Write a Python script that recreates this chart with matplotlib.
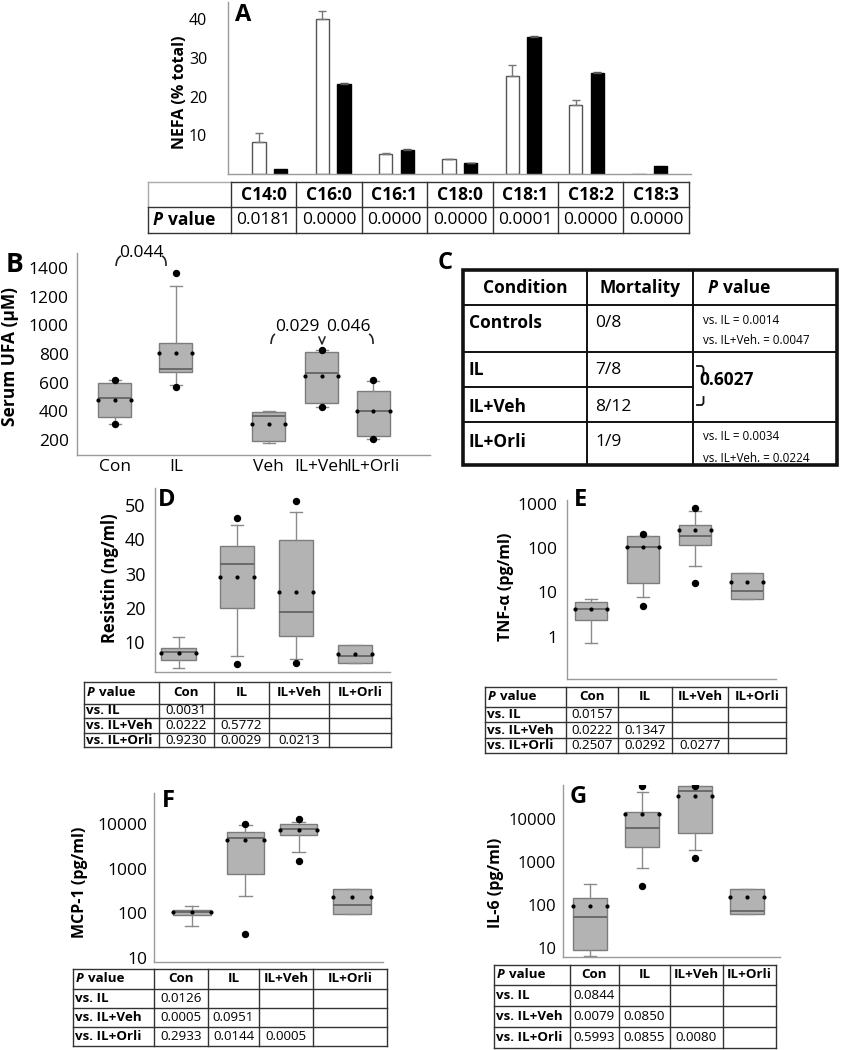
import numpy as np
import matplotlib.pyplot as plt
from matplotlib.path import Path
from matplotlib.patches import PathPatch, Rectangle

plt.rcParams['font.family'] = ['Open Sans', 'DejaVu Sans']

W, H = 841, 1050

# === Panel A: NEFA composition ===
fatty_acids = ["C14:0", "C16:0", "C16:1", "C18:0", "C18:1", "C18:2", "C18:3"]
nefa_open = [8.2, 40.0, 5.2, 3.8, 25.3, 17.7, 0.0]
nefa_open_err = [2.3, 2.2, 0.2, 0.2, 2.8, 1.4, 0.0]
nefa_filled = [1.3, 23.3, 6.3, 2.8, 35.3, 26.1, 2.0]
nefa_filled_err = [0.0, 0.3, 0.1, 0.1, 0.3, 0.3, 0.0]
nefa_p = ["0.0181", "0.0000", "0.0000", "0.0000", "0.0001", "0.0000", "0.0000"]

# === Panel B: serum UFA ===
ufa_groups = ["Con", "IL", "Veh", "IL+Veh", "IL+Orli"]
ufa_q1 = [363, 671, 193, 456, 228]
ufa_med = [496, 696, 368, 666, 403]
ufa_q3 = [596, 876, 398, 817, 545]
ufa_lo = [312, 585, 181, 433, 205]
ufa_hi = [620, 1272, 400, 829, 612]
ufa_mean = [480, 804, 310, 643, 403]
ufa_dots = [[620, 312], [1365, 568], [], [829, 433], [619, 205]]

# === Panel C: mortality table ===
mort_conditions = ["Controls", "IL", "IL+Veh", "IL+Orli"]
mort_ratio = ["0/8", "7/8", "8/12", "1/9"]
mort_p_controls = ["vs. IL = 0.0014", "vs. IL+Veh. = 0.0047"]
mort_p_orli = ["vs. IL = 0.0034", "vs. IL+Veh. = 0.0224"]
mort_p_il_vs_veh = "0.6027"

# === Panels D-G: cytokines ===
groups = ["Con", "IL", "IL+Veh", "IL+Orli"]
row_labels = ["vs. IL", "vs. IL+Veh", "vs. IL+Orli"]

resistin = dict(q1=[4.85, 20.0, 11.8, 3.9], med=[7.0, 32.8, 18.9, 6.0],
                q3=[8.3, 38.1, 39.8, 9.3], lo=[2.5, 6.0, 5.2, 3.9],
                hi=[11.5, 44.1, 48.0, 9.3], mean=[6.7, 29.0, 24.6, 6.6],
                dots=[[], [46.3, 3.6], [51.2, 3.9], []])
resistin_p = [["0.0031", "", "", ""],
              ["0.0222", "0.5772", "", ""],
              ["0.9230", "0.0029", "0.0213", ""]]

tnf = dict(q1=[2.38, 16.5, 117, 7.2], med=[4.3, 107, 186, 10.5],
           q3=[6.15, 190, 330, 27.8], lo=[0.71, 7.7, 39, 7.2],
           hi=[6.95, 190, 683, 27.8], mean=[4.2, 107, 264, 17.4],
           dots=[[], [209, 4.9], [813, 16.5], []])
tnf_p = [["0.0157", "", "", ""],
         ["0.0222", "0.1347", "", ""],
         ["0.2507", "0.0292", "0.0277", ""]]

mcp1 = dict(q1=[93, 747, 5570, 95], med=[105, 4780, 7600, 158],
            q3=[119, 6730, 9800, 357], lo=[53, 244, 2360, 95],
            hi=[146, 9500, 11300, 357], mean=[105, 4390, 7350, 228],
            dots=[[], [10000, 34], [12700, 1490], []])
mcp1_p = [["0.0126", "", "", ""],
          ["0.0005", "0.0951", "", ""],
          ["0.2933", "0.0144", "0.0005", ""]]

il6 = dict(q1=[8.8, 2280, 4720, 62], med=[52, 6290, 45700, 74],
           q3=[148, 14800, 57600, 240], lo=[6.4, 738, 1940, 62],
           hi=[308, 43200, 57600, 240], mean=[96, 13000, 33700, 153],
           dots=[[], [57000, 282], [58500, 1260], []])
il6_p = [["0.0844", "", "", ""],
         ["0.0079", "0.0850", "", ""],
         ["0.5993", "0.0855", "0.0080", ""]]

BOX_FACE = "#b3b3b3"
BOX_EDGE = "#7c7c7c"
SPINE = "#9a9a9a"
LINE = "#333333"

fig = plt.figure(figsize=(W / 100, H / 100), dpi=100)

# overlay in pixel coordinates for tables / letters / annotations
ov = fig.add_axes([0, 0, 1, 1])
ov.set_xlim(0, W)
ov.set_ylim(H, 0)
ov.axis("off")


def px_axes(x0, y0, x1, y1):
    return fig.add_axes([x0 / W, 1 - y1 / H, (x1 - x0) / W, (y1 - y0) / H])


def style_axes(ax, labelsize, pad):
    for s in ["top", "right"]:
        ax.spines[s].set_visible(False)
    for s in ["left", "bottom"]:
        ax.spines[s].set_color(SPINE)
        ax.spines[s].set_linewidth(1.0)
    ax.tick_params(length=0, labelsize=labelsize, pad=pad)
    ax.set_facecolor("none")


def boxes(ax, d, positions, width):
    n = len(d["med"])
    stats = []
    for i in range(n):
        stats.append(dict(med=d["med"][i], q1=d["q1"][i], q3=d["q3"][i],
                          whislo=d["lo"][i], whishi=d["hi"][i], fliers=[]))
    ax.bxp(stats, positions=positions, widths=width, capwidths=width * 0.35,
           patch_artist=True, showfliers=False,
           boxprops=dict(facecolor=BOX_FACE, edgecolor=BOX_EDGE, linewidth=1.0),
           medianprops=dict(color="#5e5e5e", linewidth=1.2),
           whiskerprops=dict(color="#8a8a8a", linewidth=1.0),
           capprops=dict(color="#8a8a8a", linewidth=1.0))
    for i, p in enumerate(positions):
        ax.plot([p - width / 2, p, p + width / 2], [d["mean"][i]] * 3, "o",
                ms=2.0, color="black", zorder=5)
        if d["dots"][i]:
            ax.plot([p] * len(d["dots"][i]), d["dots"][i], "o", ms=4.3,
                    color="black", zorder=5)


def letter(x, y, s, size=17):
    ov.text(x, y, s, fontsize=size, fontweight="bold", ha="center", va="center")


def ylab(x, y, s, size=12):
    ov.text(x, y, s, fontsize=size, fontweight="bold", rotation=90,
            ha="center", va="center")


def p_value_head(x, y, size):
    ov.text(x, y, "P", fontsize=size, fontweight="bold", fontstyle="italic",
            ha="left", va="center")
    ov.text(x + size * 1.2, y, "value", fontsize=size, fontweight="bold",
            ha="left", va="center")


def p_table(xs, ys, p_rows, size=9.6):
    for x in xs:
        ov.plot([x, x], [ys[0], ys[-1]], color=LINE, lw=1.0)
    for y in ys:
        ov.plot([xs[0], xs[-1]], [y, y], color=LINE, lw=1.0)
    yc = [(ys[i] + ys[i + 1]) / 2 for i in range(len(ys) - 1)]
    p_value_head(xs[0] + 3, yc[0], size)
    for j, g in enumerate(groups):
        ov.text((xs[j + 1] + xs[j + 2]) / 2, yc[0], g, fontsize=size,
                fontweight="bold", ha="center", va="center")
    for i, lab in enumerate(row_labels):
        ov.text(xs[0] + 2, yc[i + 1], lab, fontsize=size, fontweight="bold",
                ha="left", va="center")
        for j, v in enumerate(p_rows[i]):
            ov.text((xs[j + 1] + xs[j + 2]) / 2, yc[i + 1], v, fontsize=size,
                    ha="center", va="center")


def hook(pts, lw=1.2):
    codes = [Path.MOVETO, Path.CURVE3, Path.CURVE3]
    ov.add_patch(PathPatch(Path(pts, codes), fill=False, lw=lw, color="#222"))


# ---------------- Panel A ----------------
axA = px_axes(228, 2, 691, 174)
x = np.arange(len(fatty_acids))
bw, off = 0.21, 0.17
axA.bar(x - off, nefa_open, bw, color="white", edgecolor="#555555", lw=1.0)
axA.bar(x + off, nefa_filled, bw, color="black", edgecolor="black", lw=1.0)
mask_o = np.array(nefa_open_err) > 0
axA.errorbar((x - off)[mask_o], np.array(nefa_open)[mask_o],
             yerr=[np.zeros(mask_o.sum()), np.array(nefa_open_err)[mask_o]],
             fmt="none", ecolor="#777777", elinewidth=1.0, capsize=3)
mask_f = np.array(nefa_filled_err) > 0
axA.errorbar((x + off)[mask_f], np.array(nefa_filled)[mask_f],
             yerr=[np.zeros(mask_f.sum()), np.array(nefa_filled_err)[mask_f]],
             fmt="none", ecolor="#555555", elinewidth=1.0, capsize=3)
axA.set_xlim(-0.66, 6.65)
axA.set_ylim(0, 44.4)
axA.set_yticks([10, 20, 30, 40])
axA.set_xticks([])
style_axes(axA, 11.5, 15)
letter(243, 15, "A")
ylab(180, 92, "NEFA (% total)", 11.5)

# table A
a_cols = [148, 231] + [231 + 65.4 * (k + 1) for k in range(7)]
a_rows = [182, 207, 233]
for k, xx in enumerate(a_cols):
    y_top = a_rows[1] if k == 0 else a_rows[0]
    ov.plot([xx, xx], [y_top, a_rows[2]], color=LINE, lw=1.0)
ov.plot([148, 148], [a_rows[0], a_rows[1]], color="#aaaaaa", lw=1.0)
ov.plot([148, 231], [a_rows[0], a_rows[0]], color="#aaaaaa", lw=1.0)
ov.plot([231, a_cols[-1]], [a_rows[0], a_rows[0]], color=LINE, lw=1.0)
ov.plot([148, a_cols[-1]], [a_rows[1], a_rows[1]], color=LINE, lw=1.0)
ov.plot([148, a_cols[-1]], [a_rows[2], a_rows[2]], color=LINE, lw=1.0)
for k, fa in enumerate(fatty_acids):
    cx = (a_cols[k + 1] + a_cols[k + 2]) / 2
    ov.text(cx, 194.5, fa, fontsize=12.5, fontweight="bold", ha="center", va="center")
    ov.text(cx, 220, nefa_p[k], fontsize=12.5, ha="center", va="center")
p_value_head(153, 220, 12.5)

# ---------------- Panel B ----------------
axB = px_axes(77, 253, 430, 455)
posB = [0, 1, 2.52, 3.39, 4.23]
ufa = dict(q1=ufa_q1, med=ufa_med, q3=ufa_q3, lo=ufa_lo, hi=ufa_hi,
           mean=ufa_mean, dots=ufa_dots)
boxes(axB, ufa, posB, 0.54)
axB.set_xlim(-0.62, 5.16)
axB.set_ylim(95, 1505)
axB.set_yticks(range(200, 1401, 200))
axB.set_xticks(posB)
axB.set_xticklabels(ufa_groups)
style_axes(axB, 12.5, 6)
axB.tick_params(axis="x", pad=3)
letter(15, 264, "B", 19)
ylab(10, 356, "Serum UFA (\u03bcM)", 12.5)
ov.text(141, 253, "0.044", fontsize=12.5, ha="center", va="center")
hook([(116, 266), (116.5, 258), (121, 256)])
hook([(162, 256), (166.5, 258), (166, 266)])
ov.text(297, 327, "0.029", fontsize=12.5, ha="center", va="center")
ov.text(348, 327, "0.046", fontsize=12.5, ha="center", va="center")
hook([(271, 344), (271.5, 336), (275, 334)])
hook([(369, 334), (373.5, 336), (373, 344)])
ov.plot([319, 322, 325], [337, 344, 337], color="#222", lw=1.1)

# ---------------- Panel C ----------------
letter(445, 263, "C")
cx0, cx1, cx2, cx3 = 463, 587, 693, 837
cy = [270, 305, 352, 387, 422, 465]
ov.add_patch(Rectangle((cx0, cy[0]), cx3 - cx0, cy[-1] - cy[0], fill=False,
                       lw=2.6, edgecolor="#111"))
for xx in [cx1, cx2]:
    ov.plot([xx, xx], [cy[0], cy[-1]], color="#111", lw=1.4)
for yy in [cy[1], cy[2], cy[4]]:
    ov.plot([cx0, cx3], [yy, yy], color="#111", lw=1.4)
ov.plot([cx0, cx2], [cy[3], cy[3]], color="#111", lw=1.4)
ov.text((cx0 + cx1) / 2, 288, "Condition", fontsize=12.5, fontweight="bold",
        ha="center", va="center")
ov.text((cx1 + cx2) / 2, 288, "Mortality", fontsize=12.5, fontweight="bold",
        ha="center", va="center")
p_value_head(708, 288, 12.5)
row_y = [323, 370, 407, 442]
for cond, ratio, yy in zip(mort_conditions, mort_ratio, row_y):
    ov.text(cx0 + 6, yy, cond, fontsize=12.5, fontweight="bold", ha="left", va="center")
    ov.text(cx1 + 8, yy, ratio, fontsize=12.5, ha="left", va="center")
for s, yy in zip(mort_p_controls, [320, 341]):
    ov.text(703, yy, s, fontsize=8.4, ha="left", va="center")
for s, yy in zip(mort_p_orli, [437, 458]):
    ov.text(703, yy, s, fontsize=8.4, ha="left", va="center")
ov.text(699, 380, mort_p_il_vs_veh, fontsize=12.5, fontweight="bold", ha="left",
        va="center")
ov.plot([697, 702, 703.5, 703.5], [366, 366, 368, 375], color="#111", lw=1.3)
ov.plot([703.5, 703.5, 702, 697], [397, 403, 405, 405], color="#111", lw=1.3)

# ---------------- Panel D ----------------
axD = px_axes(155, 488, 390, 672)
pos4 = np.arange(4)
boxes(axD, resistin, pos4, 0.58)
axD.set_xlim(-0.4, 3.6)
axD.set_ylim(1.3, 55)
axD.set_yticks([10, 20, 30, 40, 50])
axD.set_xticks([])
style_axes(axD, 13, 7)
letter(167, 500, "D", 17)
ylab(110, 578, "Resistin (ng/ml)", 12)
p_table([84, 159, 214, 269, 329, 391], [682, 704, 718, 733, 747], resistin_p)


def log_axes(ax, ticks, labelsize, pad):
    ax.set_yscale("log")
    ax.set_yticks(ticks)
    ax.set_yticklabels([str(t) for t in ticks])
    ax.yaxis.set_minor_locator(plt.NullLocator())
    ax.set_xticks([])
    style_axes(ax, labelsize, pad)


# ---------------- Panel E ----------------
axE = px_axes(567, 500, 776, 679)
boxes(axE, tnf, pos4, 0.62)
axE.set_xlim(-0.46, 3.56)
axE.set_ylim(0.11, 1230)
log_axes(axE, [1, 10, 100, 1000], 12.5, 7)
letter(581, 500, "E", 17)
ylab(506, 587, "TNF-\u03b1 (pg/ml)", 11.5)
p_table([485, 566, 618, 672, 728, 786], [687, 707, 722, 738, 753], tnf_p)

# ---------------- Panel F ----------------
axF = px_axes(154, 793, 383, 962)
boxes(axF, mcp1, pos4, 0.70)
axF.set_xlim(-0.71, 3.58)
axF.set_ylim(8.2, 49000)
log_axes(axF, [10, 100, 1000, 10000], 12.5, 5)
letter(168, 801, "F", 17)
ylab(80, 882, "MCP-1 (pg/ml)", 11.5)
p_table([73, 154, 208, 259, 313, 387], [969, 989, 1008, 1027, 1046], mcp1_p)

# ---------------- Panel G ----------------
axG = px_axes(563, 785, 780, 957)
boxes(axG, il6, pos4, 0.65)
axG.set_xlim(-0.52, 3.63)
axG.set_ylim(6.2, 61600)
log_axes(axG, [10, 100, 1000, 10000], 12, 5)
letter(578, 797, "G", 17)
ylab(496, 883, "IL-6 (pg/ml)", 11.5)
p_table([494, 570, 619, 670, 723, 776], [965, 985, 1006, 1027, 1048], il6_p)

fig.savefig("out.png", dpi=100)
